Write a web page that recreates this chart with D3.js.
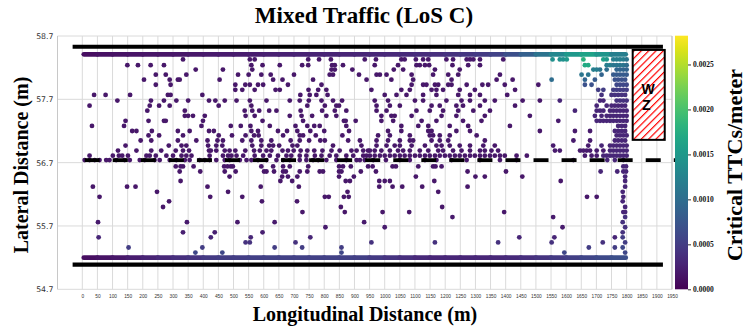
<!DOCTYPE html>
<html><head><meta charset="utf-8">
<script src="https://cdn.jsdelivr.net/npm/d3@7"></script>
<style>body{margin:0;background:#fff}svg{display:block}</style>
</head><body><svg id="c" width="747" height="327"></svg>
<script>
// ---------------- DATA ----------------
const titleText = "Mixed Traffic (LoS C)";
const xLabelText = "Longitudinal Distance (m)";
const yLabelText = "Lateral Distance (m)";
const cLabelText = "Critical TTCs/meter";

const xTickValues = [0,50,100,150,200,250,300,350,400,450,500,550,600,650,700,750,800,850,900,950,1000,1050,1100,1150,1200,1250,1300,1350,1400,1450,1500,1550,1600,1650,1700,1750,1800,1850,1900,1950];
const yTickValues = [54.7,55.7,56.7,57.7,58.7];
const cbarTicks = [0,0.0005,0.001,0.0015,0.002,0.0025];

// lane markings and work zone (data units)
const laneSolidY = [58.53, 55.09];
const laneSolidX = [-32, 1920];
const laneDashY = 56.74;
const laneDashX = [8, 1963];
const wzX = [1820, 1926];
const wzY = [57.06, 58.48];

// dense rows along the outer lanes
const topRowY = 58.41;
const botRowY = 55.20;
const rowX = [5,50,100,150,200,250,300,350,400,450,500,550,600,650,700,750,800,850,900,950,1000,1050,1100,1150,1200,1250,1300,1350,1400,1450,1500,1550,1600,1650,1700,1750,1797];
const topRowTTC = [0.00010,0.00012,0.00013,0.00014,0.00015,0.00016,0.00017,0.00018,0.00019,0.00020,0.00021,0.00022,0.00024,0.00025,0.00026,0.00027,0.00028,0.00029,0.00030,0.00031,0.00032,0.00033,0.00035,0.00037,0.00040,0.00043,0.00047,0.00052,0.00060,0.00075,0.00095,0.00120,0.00140,0.00160,0.00165,0.00130,0.00110];
const botRowTTC = [0.00010,0.00012,0.00015,0.00020,0.00025,0.00030,0.00035,0.00040,0.00045,0.00050,0.00050,0.00052,0.00055,0.00055,0.00055,0.00055,0.00055,0.00055,0.00055,0.00050,0.00045,0.00040,0.00035,0.00030,0.00030,0.00030,0.00030,0.00030,0.00032,0.00035,0.00040,0.00045,0.00050,0.00055,0.00060,0.00065,0.00070];

// scattered conflicts, grouped by lateral position
const levelY = [58.33,58.24,58.17,58.09,58.01,57.93,57.85,57.77,57.68,57.60,57.52,57.44,57.36,57.28,57.20,57.13,57.05,56.97,56.89,56.81,56.74,56.64,56.56,56.48,56.41,56.32,56.24,56.16,56.09,56.00,55.92,55.84,55.76,55.68,55.60,55.52,55.44,55.36,55.28];
const levelTTC = [0.00018,0.00018,0.00018,0.00018,0.00018,0.00018,0.00018,0.00018,0.00018,0.00018,0.00018,0.00018,0.00018,0.00018,0.00018,0.00018,0.00018,0.00018,0.00018,0.00018,0.00018,0.00018,0.00018,0.00018,0.00018,0.00018,0.00018,0.00018,0.00018,0.00018,0.00018,0.0002,0.0002,0.00022,0.00025,0.0003,0.0004,0.0005,0.0006];
const levelX = [
 [333,554,570,747,783,822,934,971,1055,1066,1103,1127,1144,1204,1226,1271,1282,1293,1315,1392],
 [149,184,226,270,559,596,653,727,747,826,835,862,967,1044,1105,1116,1133,1147,1224,1276,1315],
 [375,465,562,824,835,893,1030,1061,1166,1248],
 [243,276,344,515,550,592,623,700,818,829,915,973,984,1006,1089,1160,1210,1243,1381],
 [204,289,316,322,454,631,662,763,940,1022,1094,1221,1370,1423],
 [243,292,506,539,554,581,598,680,791,1089,1127,1138,1166,1177,1210,1221,1271,1323,1342,1397,1508],
 [506,529,570,639,653,748,780,807,956,1055,1083,1155,1171,1193,1248,1298,1431],
 [39,77,158,283,292,397,721,752,774,811,1000,1039,1072,1127,1171,1243,1282,1315,1405],
 [116,227,270,311,350,419,440,471,510,554,609,686,719,749,791,829,859,967,1011,1100,1127,1204,1254,1282,1331,1364,1456,1513],
 [24,223,254,289,451,559,744,802,840,849,973,1017,1050,1155,1182,1237,1259,1315,1431],
 [215,339,537,562,585,618,642,722,793,835,873,973,1006,1105,1149,1193,1243,1293,1348],
 [339,350,366,405,540,570,686,725,760,807,840,989,1022,1033,1089,1188,1237,1331,1480],
 [143,219,270,276,399,596,730,865,871,904,989,1028,1122,1171,1259,1320],
 [32,138,394,491,524,556,620,705,744,767,785,873,1055,1111,1144,1215,1276,1414],
 [165,179,230,316,355,419,435,559,581,647,677,711,754,800,882,1011,1055,1144,1155,1237,1282,1513],
 [219,254,333,451,495,540,568,583,664,719,730,772,860,978,1017,1083,1149,1160,1182,1215,1304],
 [193,228,316,377,414,447,465,529,559,592,625,689,719,750,787,802,879,918,973,1011,1050,1083,1094,1155,1182,1210,1331],
 [143,286,328,344,416,443,463,562,592,618,631,651,695,711,829,923,973,1006,1033,1050,1089,1133,1171,1188,1215,1248,1282,1326,1364],
 [118,179,228,261,309,333,353,419,425,443,471,487,506,539,568,587,609,625,662,680,699,722,744,767,794,824,851,890,907,929,945,951,967,989,1017,1044,1061,1083,1116,1144,1177,1193,1226,1254,1282,1315,1331,1353,1375],
 [24,101,121,132,151,212,223,243,278,300,328,344,361,421,465,482,493,510,532,570,598,620,647,675,691,719,741,769,791,818,840,873,896,929,940,951,967,984,1000,1017,1033,1050,1066,1083,1100,1116,1133,1149,1166,1182,1199,1215,1232,1248,1265,1282,1298,1315,1331,1348,1364,1381,1397,1436,1470],
 [8,24,41,57,79,90,112,140,157,190,206,239,256,289,311,339,355,388,405,421,443,471,487,521,543,559,581,609,642,664,686,719,741,763,780,807,840,873,907,918,934,962,1004,1050,1083,1133,1171,1221,1271,1315,1381,1436],
 [309,325,333,368,469,480,491,498,592,631,664,686,747,849,862,888,945,960,1026,1037,1111,1160,1168,1188],
 [322,390,471,507,601,609,634,664,673,719,744,785,796,849,857,921,971,1274,1401],
 [487,661,680,711,849,898,1103,1300,1331,1455],
 [325,655,694,871,885,982,1000,1017,1164,1582],
 [35,148,176,414,590,716,982,1026,1058,1124,1274],
 [247,482,877,1177],
 [57,423,529,802,815,865,881,1669,1701],
 [287,594,710],
 [267,855,1190],
 [728,868,993,1081,1395],
 [1224,1557],
 [52,346,513,636,932],
 [804,1000,1588],
 [333,438,596],
 [54,425,557,754,1445,1561,1761],
 [540,554,705,956,1166,1375,1552,1721],
 [153,397,636,727,857,1675,1761],
 [374,463,857,1594]
];

// conflicts near the work zone taper (same lateral levels), each with its own rate
const edgeX = [
 [1555,1579,1590,1602,1657,1723,1734,1756,1767,1778,1789,1800],
 [1662,1673,1734,1745,1756,1767,1778,1789,1800],
 [1690,1701,1712,1734,1767,1778,1789,1800],
 [1651,1673,1717,1756,1767,1778,1789,1800],
 [1552,1662,1695,1761,1772,1784,1795],
 [1662,1684,1767,1778,1789,1800],
 [1706,1723,1756,1767,1778,1789,1800],
 [1717,1750,1761,1772,1784,1795],
 [1579,1712,1723,1767,1778,1789,1800],
 [1701,1734,1750,1761,1772,1784,1795],
 [1629,1701,1712,1723,1745,1756,1767,1778,1789,1800],
 [1695,1717,1734,1745,1756,1767,1778,1789,1800],
 [1574,1701,1712,1723,1734,1745,1756,1767,1778,1789,1800],
 [1772,1784,1795],
 [1629,1679,1761,1772,1784,1795],
 [1767,1778,1789,1800],
 [1624,1679,1761,1772,1784,1795],
 [1557,1673,1717,1745,1756,1767,1778,1789,1800],
 [1563,1579,1646,1657,1668,1679,1701,1723,1745,1756,1767,1778,1789,1800],
 [1662,1684,1701,1723,1734,1745,1756,1767,1778,1789,1800],
 [1624,1736,1761,1789],
 [1789,1798],
 [1714,1769,1789,1798],
 [1795],[1795],[1795],[1787],[1789],[1787],[1795],
 [1789,1795],
 [1795],[1787],[1795],[1787],[1787],[1795],[1787],[1795]
];
const edgeTTC = [
 [0.0014,0.0014,0.0014,0.0015,0.0018,0.0016,0.0015,0.0012,0.0012,0.0012,0.0012,0.0011],
 [0.0017,0.0017,0.0012,0.0012,0.0011,0.0011,0.0011,0.0011,0.0010],
 [0.0012,0.0012,0.0011,0.0010,0.0009,0.0009,0.0009,0.0009],
 [0.0011,0.0011,0.0009,0.0008,0.0008,0.0008,0.0008,0.0008],
 [0.0010,0.0009,0.0008,0.0007,0.0007,0.0007,0.0007],
 [0.0007,0.0007,0.0006,0.0006,0.0006,0.0006],
 [0.0005,0.0005,0.0005,0.0005,0.0005,0.0005,0.0005],
 [0.0004,0.0004,0.0004,0.0004,0.0004,0.0004],
 [0.0003,0.0003,0.0003,0.0004,0.0004,0.0004,0.0004],
 [0.0003,0.0003,0.0003,0.0003,0.0003,0.0003,0.0003],
 [0.0003,0.0003,0.0003,0.0003,0.0003,0.0003,0.0003,0.0003,0.0003,0.0003],
 [0.0003,0.0003,0.0003,0.0003,0.0003,0.0003,0.0003,0.0003,0.0003],
 [0.0002,0.0003,0.0003,0.0003,0.0003,0.0003,0.0003,0.0003,0.0003,0.0003,0.0003],
 [0.0003,0.0003,0.0003],
 [0.0002,0.0002,0.0003,0.0003,0.0003,0.0003],
 [0.0003,0.0003,0.0003,0.0003],
 [0.0002,0.0002,0.0003,0.0003,0.0003,0.0003],
 [0.0002,0.0002,0.0003,0.0003,0.0003,0.0003,0.0003,0.0003,0.0003],
 [0.0002,0.0002,0.0002,0.0002,0.0002,0.0002,0.0002,0.0002,0.0003,0.0003,0.0003,0.0003,0.0003,0.0003],
 [0.0002,0.0002,0.0002,0.0003,0.0003,0.0003,0.0003,0.0003,0.0003,0.0003,0.0003],
 [0.0002,0.0003,0.0003,0.0003],
 [0.0003,0.0003],
 [0.0003,0.0003,0.0003,0.0003],
 [0.0003],[0.0003],[0.0003],[0.0003],[0.0003],[0.0003],[0.0003],
 [0.0003,0.0003],
 [0.0004],[0.0004],[0.0004],[0.0004],[0.0005],[0.0005],[0.0006],[0.0006]
];

// ---------------- CHART ----------------
const svg = d3.select("#c");
const P = {l:57.5, r:672, t:36, b:289.3};
const x = d3.scaleLinear().domain([-82,1950]).range([P.l,P.r]);
const y = d3.scaleLinear().domain([54.7,58.7]).range([P.b,P.t]);
const cMax = 0.00282;
const color = d3.scaleSequential(d3.interpolateViridis).domain([0,cMax]);
const serif = "'Liberation Serif','Times New Roman',serif";

svg.append("rect").attr("width",747).attr("height",327).attr("fill","#fff");

// grid
const grid = svg.append("g");
grid.selectAll("line.vx").data(xTickValues).join("line")
  .attr("x1",d=>x(d)).attr("x2",d=>x(d)).attr("y1",P.t).attr("y2",P.b)
  .attr("stroke","#dadada").attr("stroke-width",1);
grid.selectAll("line.hy").data(yTickValues).join("line")
  .attr("class","hy")
  .attr("x1",P.l).attr("x2",P.r).attr("y1",d=>y(d)).attr("y2",d=>y(d))
  .attr("stroke","#dadada").attr("stroke-width",1);
svg.append("line").attr("x1",P.l).attr("x2",P.l).attr("y1",P.t).attr("y2",P.b).attr("stroke","#c8c8c8");
svg.append("line").attr("x1",P.r).attr("x2",P.r).attr("y1",P.t).attr("y2",P.b).attr("stroke","#bdbdbd");

// axes
const xa = svg.append("g").attr("transform",`translate(0,${P.b})`)
  .call(d3.axisBottom(x).tickValues(xTickValues).tickFormat(d3.format("d")).tickSize(0).tickPadding(5));
xa.select(".domain").remove();
xa.selectAll("text").attr("font-family","'Liberation Sans',Arial,sans-serif").attr("font-size",4.8).attr("fill","#333");

const ya = svg.append("g").attr("transform",`translate(${P.l},0)`)
  .call(d3.axisLeft(y).tickValues(yTickValues).tickFormat(d3.format(".1f")).tickSize(0).tickPadding(4));
ya.select(".domain").remove();
ya.selectAll("text").attr("font-family","'DejaVu Sans',sans-serif").attr("font-size",7.8).attr("fill","#333");

// dense rows
function drawRow(yv, vals){
  const segs = d3.pairs(rowX.map((xv,i)=>({x:xv,v:vals[i]})));
  svg.append("g").selectAll("line").data(segs).join("line")
    .attr("x1",d=>x(d[0].x)).attr("x2",d=>x(d[1].x))
    .attr("y1",y(yv)).attr("y2",y(yv))
    .attr("stroke",d=>color((d[0].v+d[1].v)/2))
    .attr("stroke-width",4.8).attr("stroke-linecap","round");
}
drawRow(topRowY, topRowTTC);
drawRow(botRowY, botRowTTC);

// scattered points
const pts = [];
levelY.forEach((ly,i)=>{
  levelX[i].forEach(lx=>pts.push({x:lx,y:ly,v:levelTTC[i]}));
});
levelY.forEach((ly,i)=>{
  edgeX[i].forEach((ex,j)=>pts.push({x:ex,y:ly,v:edgeTTC[i][j]}));
});
svg.append("g").selectAll("circle").data(pts).join("circle")
  .attr("cx",d=>x(d.x)).attr("cy",d=>y(d.y)).attr("r",2.4)
  .attr("fill",d=>color(d.v));

// lane lines
svg.append("g").selectAll("line").data(laneSolidY).join("line")
  .attr("x1",x(laneSolidX[0])).attr("x2",x(laneSolidX[1]))
  .attr("y1",d=>y(d)).attr("y2",d=>y(d))
  .attr("stroke","#000").attr("stroke-width",4.2);
svg.append("line")
  .attr("x1",x(laneDashX[0])).attr("x2",x(laneDashX[1]))
  .attr("y1",y(laneDashY)).attr("y2",y(laneDashY))
  .attr("stroke","#000").attr("stroke-width",3.8).attr("stroke-dasharray","15,13.05");

// work zone
const defs = svg.append("defs");
const pat = defs.append("pattern").attr("id","hatch").attr("patternUnits","userSpaceOnUse")
  .attr("width",5.2).attr("height",5.2).attr("patternTransform","rotate(45)");
pat.append("rect").attr("width",5.2).attr("height",5.2).attr("fill","#fff");
pat.append("line").attr("x1",0).attr("y1",0).attr("x2",0).attr("y2",5.2).attr("stroke","#ff0000").attr("stroke-width",2.4);
svg.append("rect").attr("x",x(wzX[0])).attr("y",y(wzY[1]))
  .attr("width",x(wzX[1])-x(wzX[0])).attr("height",y(wzY[0])-y(wzY[1]))
  .attr("fill","url(#hatch)").attr("stroke","#000").attr("stroke-width",2);
const wzCx = x((wzX[0]+wzX[1])/2);
svg.append("text").attr("x",wzCx-0.5).attr("y",93.5).attr("text-anchor","middle")
  .attr("font-family","'Liberation Sans',Arial,sans-serif").attr("font-weight","bold").attr("font-size",14).text("W");
svg.append("text").attr("x",wzCx-2.5).attr("y",110).attr("text-anchor","middle")
  .attr("font-family","'Liberation Sans',Arial,sans-serif").attr("font-weight","bold").attr("font-size",14).text("Z");

// colorbar
const cb = {x:675, w:13, t:35.7, b:289.3};
const grad = defs.append("linearGradient").attr("id","vir").attr("x1",0).attr("y1",1).attr("x2",0).attr("y2",0);
d3.range(0,1.0001,0.05).forEach(t=>grad.append("stop").attr("offset",t).attr("stop-color",d3.interpolateViridis(t)));
svg.append("rect").attr("x",cb.x).attr("y",cb.t).attr("width",cb.w).attr("height",cb.b-cb.t).attr("fill","url(#vir)");
const cy = d3.scaleLinear().domain([0,cMax]).range([cb.b,cb.t]);
const ca = svg.append("g").attr("transform",`translate(${cb.x+cb.w},0)`)
  .call(d3.axisRight(cy).tickValues(cbarTicks).tickFormat(d3.format(".4f")).tickSize(3).tickPadding(2));
ca.select(".domain").remove();
ca.selectAll("line").attr("stroke","#333");
ca.selectAll("text").attr("font-family",serif).attr("font-weight","bold").attr("font-size",7.5).attr("fill","#111");

// titles
svg.append("text").attr("x",364).attr("y",23).attr("text-anchor","middle")
  .attr("font-family",serif).attr("font-weight","bold").attr("font-size",23).text(titleText);
svg.append("text").attr("x",365).attr("y",321).attr("text-anchor","middle")
  .attr("font-family",serif).attr("font-weight","bold").attr("font-size",20).text(xLabelText);
svg.append("text").attr("transform","translate(28,165) rotate(-90)").attr("text-anchor","middle")
  .attr("font-family",serif).attr("font-weight","bold").attr("font-size",20).text(yLabelText);
svg.append("text").attr("transform","translate(742,165) rotate(-90)").attr("text-anchor","middle")
  .attr("font-family",serif).attr("font-weight","bold").attr("font-size",22).text(cLabelText);
</script></body></html>
